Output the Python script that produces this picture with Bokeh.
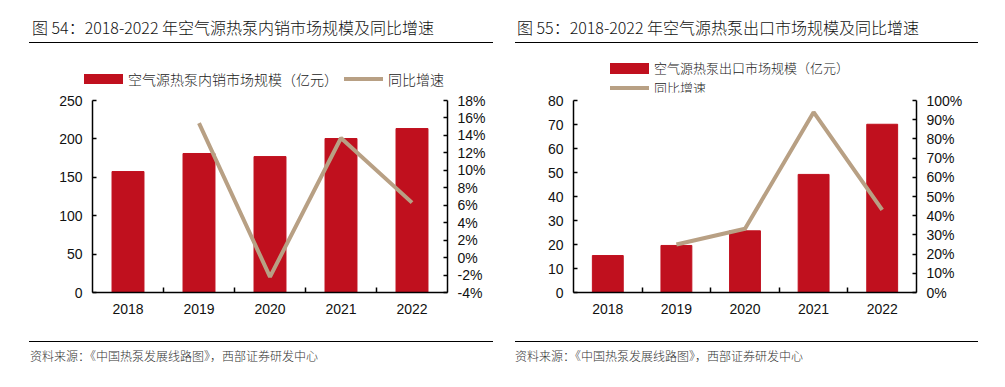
from bokeh.plotting import figure
from bokeh.models import Range1d, LinearAxis, FixedTicker, PrintfTickFormatter, Div
from bokeh.layouts import row, column
from bokeh.embed import file_html
from bokeh.resources import INLINE

# ---------------- data ----------------
years = ["2018", "2019", "2020", "2021", "2022"]

domestic_size = [157.5, 181, 177, 200.5, 213.5]          # 亿元
domestic_yoy = [float("nan"), 15.4, -2.2, 13.7, 6.3]     # %
domestic_left_ticks = [0, 50, 100, 150, 200, 250]
domestic_right_ticks = [-4, -2, 0, 2, 4, 6, 8, 10, 12, 14, 16, 18]

export_size = [15.4, 19.6, 25.7, 49.2, 70.1]             # 亿元
export_yoy = [float("nan"), 25.0, 33.2, 93.9, 43.0]      # %
export_left_ticks = [0, 10, 20, 30, 40, 50, 60, 70, 80]
export_right_ticks = [0, 10, 20, 30, 40, 50, 60, 70, 80, 90, 100]

title_54 = "图 54：2018-2022 年空气源热泵内销市场规模及同比增速"
title_55 = "图 55：2018-2022 年空气源热泵出口市场规模及同比增速"
legend_54 = ["空气源热泵内销市场规模（亿元）", "同比增速"]
legend_55 = ["空气源热泵出口市场规模（亿元）", "同比增速"]
source_text = "资料来源：《中国热泵发展线路图》，西部证券研发中心"

BAR = "#C0101E"
TAN = "#B8A084"
CJK = "Noto Sans CJK SC"
LAT = "Liberation Sans"

TXT = f"font-family:'{CJK}';white-space:nowrap;font-weight:300;"


def swatch_bar(h=10):
    return (f'<span style="display:inline-block;width:39px;height:{h}px;'
            f'background:{BAR};margin-right:5px;"></span>')


def swatch_line():
    return (f'<span style="display:inline-block;width:39px;height:4px;'
            f'background:{TAN};margin-right:5px;"></span>')


def legend_row(left, top, inner, size=14):
    return (f'<div style="position:absolute;left:{left}px;top:{top}px;height:16px;'
            f'display:flex;align-items:center;{TXT}font-size:{size}px;'
            f'line-height:16px;color:#222;">{inner}</div>')


def header(width, text, text_left, rule_left, rule_width, legend_html):
    html = (
        f'<div style="position:relative;width:{width}px;height:84px;">'
        f'<div style="position:absolute;left:{text_left}px;top:9px;{TXT}'
        f'font-size:16px;line-height:20px;color:#111;">{text}</div>'
        f'<div style="position:absolute;left:{rule_left}px;top:34px;'
        f'width:{rule_width}px;height:0;border-top:1.3px solid #000;"></div>'
        f'{legend_html}</div>'
    )
    return Div(text=html, width=width, height=84, margin=0)


def footer(width, text_left, rule_left, rule_width):
    html = (
        f'<div style="position:relative;width:{width}px;height:47px;">'
        f'<div style="position:absolute;left:{rule_left}px;top:9px;'
        f'width:{rule_width}px;height:0;border-top:1.3px solid #000;"></div>'
        f'<div style="position:absolute;left:{text_left}px;top:16px;{TXT}'
        f'font-size:12px;line-height:16px;color:#333;">{source_text}</div>'
        '</div>'
    )
    return Div(text=html, width=width, height=47, margin=0)


def chart(width, border_left, border_right, sizes, yoy, lticks, rticks):
    n = len(years)
    xs = [i + 0.5 for i in range(n)]
    p = figure(width=width, height=240, title=None, toolbar_location=None,
               output_backend="svg", x_range=Range1d(0, n),
               y_range=Range1d(lticks[0], lticks[-1]),
               min_border_left=border_left, min_border_right=border_right,
               min_border_top=8, min_border_bottom=40)
    p.outline_line_color = None
    p.xgrid.visible = False
    p.ygrid.visible = False
    p.extra_y_ranges = {"pct": Range1d(rticks[0], rticks[-1])}

    p.vbar(x=xs, top=sizes, width=0.45, color=BAR)
    p.line(x=xs, y=yoy, y_range_name="pct", color=TAN, line_width=4)

    xa = p.xaxis[0]
    xa.ticker = FixedTicker(ticks=xs, minor_ticks=list(range(1, n)))
    xa.major_label_overrides = {x: y for x, y in zip(xs, years)}
    xa.major_tick_in = 0
    xa.major_tick_out = 0
    xa.minor_tick_in = 5
    xa.minor_tick_out = 0
    xa.minor_tick_line_color = "black"
    xa.minor_tick_line_width = 1.5

    ra = LinearAxis(y_range_name="pct", ticker=FixedTicker(ticks=rticks),
                    formatter=PrintfTickFormatter(format="%d%%"))
    p.add_layout(ra, "right")
    la = p.yaxis[0]
    la.ticker = FixedTicker(ticks=lticks)

    for ax in [xa, la, ra]:
        ax.axis_line_color = "black"
        ax.axis_line_width = 1.5
        ax.major_label_text_font = LAT
        ax.major_label_text_font_size = "14px"
        ax.major_label_text_color = "#111111"
        ax.major_label_standoff = 10
    xa.major_label_standoff = 11
    for ax in [la, ra]:
        ax.minor_tick_line_color = None
        ax.major_tick_in = 4
        ax.major_tick_out = 0
        ax.major_tick_line_width = 1.5
        ax.major_tick_line_color = "black"
    return p


leg54 = legend_row(
    76, 63,
    swatch_bar() + f'<span style="margin-right:6px;">{legend_54[0]}</span>'
    + swatch_line() + f'<span>{legend_54[1]}</span>')
leg55 = (legend_row(102, 52, swatch_bar(11) + f'<span>{legend_55[0]}</span>', 13)
         + legend_row(102, 72, swatch_line() + f'<span>{legend_55[1]}</span>', 13))

left = column(
    header(500, title_54, 24, 21, 464, leg54),
    chart(500, 84, 61, domestic_size, domestic_yoy, domestic_left_ticks,
          domestic_right_ticks),
    footer(500, 22, 21, 464),
    spacing=0,
)
right = column(
    header(489, title_55, 9, 7, 463, leg55),
    chart(489, 65, 81, export_size, export_yoy, export_left_ticks,
          export_right_ticks),
    footer(489, 7, 7, 463),
    spacing=0,
)

layout = row(left, right, spacing=0, margin=(8, 0, 0, 8))
open("out.html", "w").write(file_html(layout, INLINE))
